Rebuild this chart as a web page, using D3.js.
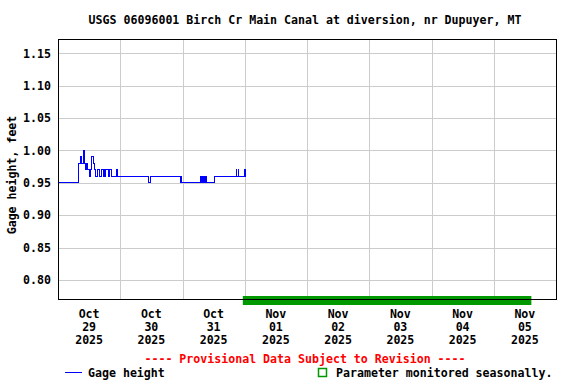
<!DOCTYPE html>
<html><head><meta charset="utf-8">
<script src="https://cdn.jsdelivr.net/npm/d3@7"></script>
<style>
html,body{margin:0;padding:0;background:#fff;}
text{font-family:"DejaVu Sans Mono",monospace;font-weight:bold;font-size:11.6px;}
</style></head>
<body><svg id="c" width="576" height="384"></svg>
<script>
const title = "USGS 06096001 Birch Cr Main Canal at diversion, nr Dupuyer, MT";
const yLabel = "Gage height, feet";
const yTicks = [0.80, 0.85, 0.90, 0.95, 1.00, 1.05, 1.10, 1.15];
const xStart = "2025-10-29 00:00", xEnd = "2025-11-06 00:00";
const dayTicks = ["2025-10-29","2025-10-30","2025-10-31","2025-11-01","2025-11-02","2025-11-03","2025-11-04","2025-11-05"];
const seasonal = ["2025-10-31 23:15", "2025-11-05 14:30"];
const provisional = "---- Provisional Data Subject to Revision ----";
const legendLine = "Gage height";
const legendSeason = "Parameter monitored seasonally.";
// readings: time of change and value (step)
const times = [
"2025-10-29 00:00","2025-10-29 08:00","2025-10-29 08:45","2025-10-29 09:15","2025-10-29 10:00","2025-10-29 10:15",
"2025-10-29 10:30","2025-10-29 11:00","2025-10-29 11:30","2025-10-29 12:00","2025-10-29 12:30","2025-10-29 13:00",
"2025-10-29 13:30","2025-10-29 14:00","2025-10-29 14:30","2025-10-29 15:15","2025-10-29 16:00","2025-10-29 16:45",
"2025-10-29 17:30","2025-10-29 17:45","2025-10-29 18:15","2025-10-29 18:30","2025-10-29 19:30","2025-10-29 20:00",
"2025-10-29 20:45","2025-10-29 22:30","2025-10-29 22:45",
"2025-10-30 10:45","2025-10-30 11:45","2025-10-30 23:15","2025-10-30 23:30","2025-10-30 23:45",
"2025-10-31 06:45","2025-10-31 07:00","2025-10-31 07:30","2025-10-31 07:45","2025-10-31 08:15","2025-10-31 08:30",
"2025-10-31 09:00","2025-10-31 09:15","2025-10-31 12:15","2025-10-31 20:45","2025-10-31 21:00","2025-10-31 21:30",
"2025-10-31 21:45","2025-11-01 00:00","2025-11-01 00:15","2025-11-01 00:30"];
const values = [
0.95,0.98,0.99,0.98,1.00,0.98,
0.97,0.98,0.97,0.96,0.97,0.99,
0.98,0.97,0.96,0.97,0.96,0.97,
0.96,0.97,0.96,0.97,0.96,0.97,
0.96,0.97,0.96,
0.95,0.96,0.95,0.96,0.95,
0.96,0.95,0.96,0.95,0.96,0.95,
0.96,0.95,0.96,0.97,0.96,0.97,
0.96,0.97,0.96,0.96];

const parse = d3.timeParse("%Y-%m-%d %H:%M");
const parseDay = d3.timeParse("%Y-%m-%d");
const data = times.map((t,i)=>({t:parse(t), v:values[i]}));

const L=58, R=556, T=39.5, B=299.5;
const svg = d3.select("#c");
const x = d3.scaleTime().domain([parse(xStart), parse(xEnd)]).range([L,R]);
const y = d3.scaleLinear().domain([0.7699, 1.1713]).range([B,T]);

// gridlines
const days = dayTicks.map(parseDay);
svg.append("g").attr("transform",`translate(0,${B})`)
  .call(d3.axisBottom(x).tickValues(days.slice(1)).tickSize(-(B-T)).tickFormat(""))
  .call(g=>g.select(".domain").remove())
  .call(g=>g.selectAll("line").attr("stroke","#cccccc").attr("shape-rendering","crispEdges"));
svg.append("g").attr("transform",`translate(${L},0)`)
  .call(d3.axisLeft(y).tickValues(yTicks).tickSize(-(R-L)).tickPadding(7).tickFormat(d3.format(".2f")))
  .call(g=>g.select(".domain").remove())
  .call(g=>g.selectAll("line").attr("stroke","#cccccc").attr("shape-rendering","crispEdges"))
  .call(g=>g.selectAll("text").attr("fill","#000").style("font-family",'"DejaVu Sans Mono",monospace').style("font-weight","bold").style("font-size","11.6px"));

// data line
svg.append("path").datum(data)
  .attr("d", d3.line().x(d=>x(d.t)).y(d=>y(d.v)).curve(d3.curveStepAfter))
  .attr("fill","none").attr("stroke","#0000ff").attr("stroke-width",1).attr("shape-rendering","crispEdges");

// seasonal bar
svg.append("rect").attr("x",x(parse(seasonal[0]))).attr("width",x(parse(seasonal[1]))-x(parse(seasonal[0])))
  .attr("y",296).attr("height",9).attr("fill","#009900");

// border
svg.append("rect").attr("x",L).attr("y",T).attr("width",R-L).attr("height",B-T)
  .attr("fill","none").attr("stroke","#000").attr("stroke-width",1).attr("shape-rendering","crispEdges");

// x labels
const fmtM=d3.timeFormat("%b"), fmtD=d3.timeFormat("%d"), fmtY=d3.timeFormat("%Y");
const xl = svg.append("g");
days.forEach(d=>{
  const cx = x(d3.timeHour.offset(d,12));
  const t = xl.append("text").attr("text-anchor","middle").attr("fill","#000");
  [fmtM(d),fmtD(d),fmtY(d)].forEach((s,i)=>t.append("tspan").attr("x",cx).attr("y",318+i*13).text(s));
});

// title
svg.append("text").attr("x",305).attr("y",24).attr("text-anchor","middle").text(title);
// y label
svg.append("text").attr("transform","translate(16,175) rotate(-90)").attr("text-anchor","middle").text(yLabel);
// provisional
svg.append("text").attr("x",305).attr("y",363).attr("text-anchor","middle").attr("fill","#ff0000").text(provisional);
// legend
svg.append("line").attr("x1",65).attr("x2",82).attr("y1",372.5).attr("y2",372.5).attr("stroke","#0000ff").attr("stroke-width",1);
svg.append("text").attr("x",88).attr("y",377).text(legendLine);
svg.append("rect").attr("x",318.5).attr("y",368.5).attr("width",8).attr("height",8).attr("fill","none").attr("stroke","#009900").attr("stroke-width",1.5);
svg.append("text").attr("x",336).attr("y",377).text(legendSeason);
</script></body></html>
